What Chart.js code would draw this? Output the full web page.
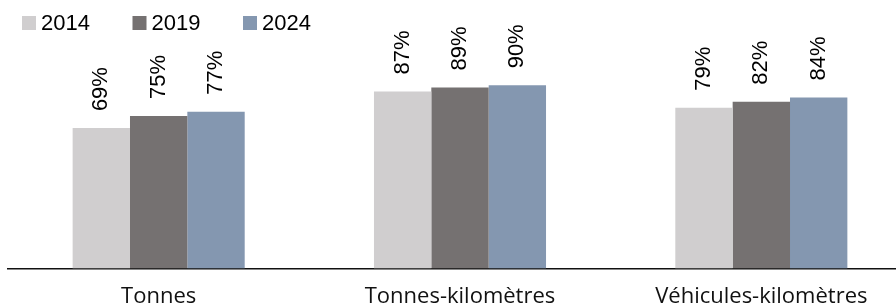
<!DOCTYPE html>
<html>
<head>
<meta charset="utf-8">
<script src="https://cdn.jsdelivr.net/npm/chart.js@4.4.1/dist/chart.umd.min.js"></script>
<style>
  html, body { margin: 0; padding: 0; background: #fff; overflow: hidden; height: 307px; }
  #wrap { position: relative; width: 912px; height: 325px; }
</style>
</head>
<body>
<div id="wrap"><canvas id="chart"></canvas></div>
<script>
const categories = ['Tonnes', 'Tonnes-kilomètres', 'Véhicules-kilomètres'];
const years = ['2014', '2019', '2024'];
const values2014 = [69, 87, 79];
const values2019 = [75, 89, 82];
const values2024 = [77, 90, 84];
const colors = ['#D0CECF', '#757171', '#8497B0'];

// legend drawn by hand so the box/text spacing matches
const legendPlugin = {
  id: 'manualLegend',
  afterDraw(chart) {
    const ctx = chart.ctx;
    ctx.save();
    ctx.font = '22px "Liberation Sans", Arial, sans-serif';
    ctx.textBaseline = 'middle';
    ctx.textAlign = 'left';
    chart.data.datasets.forEach((ds, i) => {
      const x = 22 + i * 110.5;
      ctx.fillStyle = ds.backgroundColor;
      ctx.fillRect(x, 16, 14, 14);
      ctx.fillStyle = '#000';
      ctx.fillText(ds.label, x + 19, 24);
    });
    ctx.restore();
  }
};

// rotated value labels above each bar
const valueLabels = {
  id: 'valueLabels',
  afterDatasetsDraw(chart) {
    const ctx = chart.ctx;
    ctx.save();
    ctx.font = '22px "Liberation Sans", Arial, sans-serif';
    ctx.fillStyle = '#000';
    ctx.textAlign = 'left';
    ctx.textBaseline = 'middle';
    chart.data.datasets.forEach((ds, i) => {
      chart.getDatasetMeta(i).data.forEach((bar, j) => {
        ctx.save();
        ctx.translate(bar.x, bar.y - 17);
        ctx.rotate(-Math.PI / 2);
        ctx.fillText(ds.data[j] + '%', 0, 0);
        ctx.restore();
      });
    });
    ctx.restore();
  }
};

new Chart(document.getElementById('chart'), {
  type: 'bar',
  data: {
    labels: categories,
    datasets: [
      { label: years[0], data: values2014, backgroundColor: colors[0] },
      { label: years[1], data: values2019, backgroundColor: colors[1] },
      { label: years[2], data: values2024, backgroundColor: colors[2] }
    ]
  },
  options: {
    responsive: true,
    maintainAspectRatio: false,
    animation: false,
    layout: { padding: { top: 65, left: 8, right: 0, bottom: 0 } },
    datasets: { bar: { categoryPercentage: 0.571, barPercentage: 1.0 } },
    plugins: {
      legend: { display: false },
      tooltip: { enabled: false }
    },
    scales: {
      x: {
        grid: { display: false, drawTicks: false },
        border: { display: true, color: '#111', width: 1.5 },
        ticks: {
          color: '#111',
          padding: 15,
          font: { family: '"Open Sans", sans-serif', size: 22 }
        }
      },
      y: {
        display: false,
        min: 0,
        max: 100
      }
    }
  },
  plugins: [legendPlugin, valueLabels]
});
</script>
</body>
</html>
